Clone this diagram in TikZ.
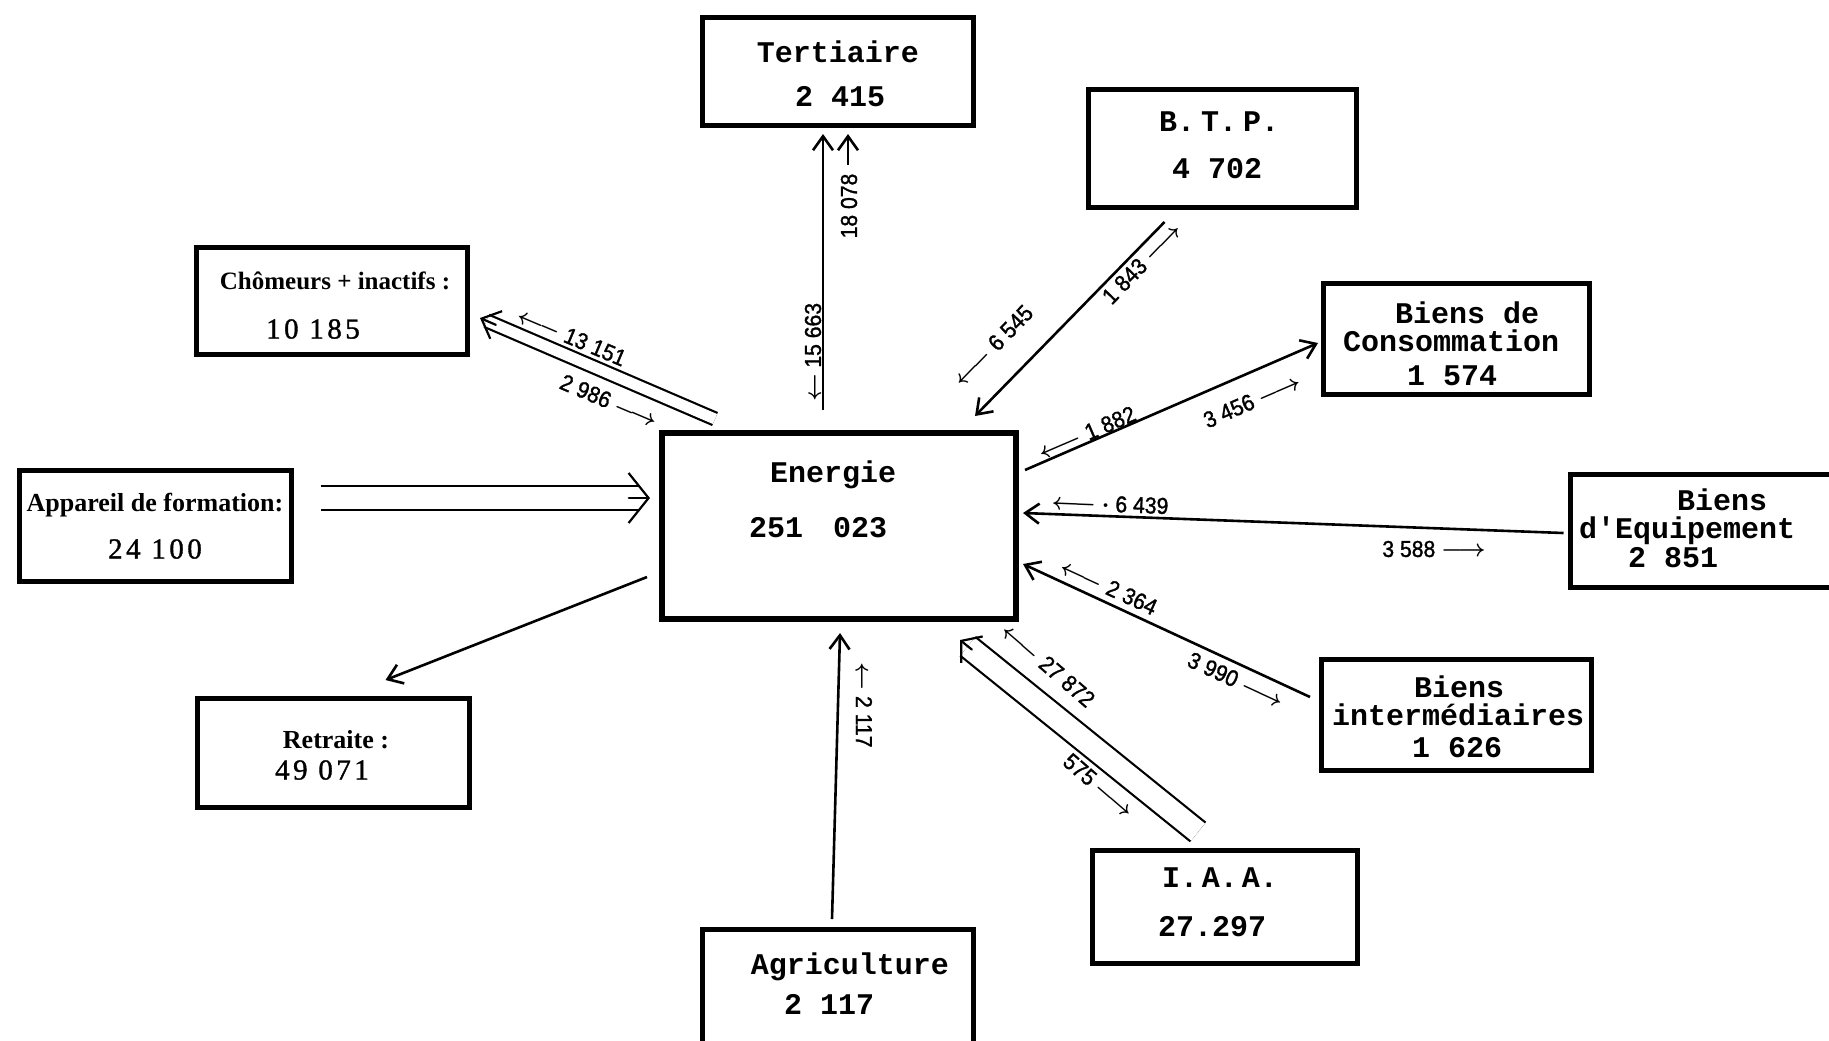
\documentclass[tikz,border=0pt]{standalone}
\usepackage{fontspec}
\setmainfont{Liberation Serif}
\newfontfamily\typefont{Liberation Mono}
\newfontfamily\serifnum[LetterSpace=12,FakeBold=1.2]{Liberation Serif}
\newfontfamily\flowfont[FakeStretch=0.92,FakeBold=1.3]{Liberation Sans}
\usetikzlibrary{arrows.meta,calc}

\begin{document}
\begin{tikzpicture}[
  x=0.5pt, y=-0.5pt,
  box/.style={draw, line width=2.5pt, inner sep=0pt},
  mainbox/.style={draw, line width=3pt, inner sep=0pt},
  tw/.style={inner sep=0pt, font=\typefont\bfseries\fontsize{15}{17}\selectfont},
  caption/.style={inner sep=0pt, font=\bfseries\fontsize{12.5}{14}\selectfont},
  bignum/.style={inner sep=0pt, font=\serifnum\fontsize{14.5}{16}\selectfont},
  flow/.style={inner sep=0pt, font=\flowfont\boldmath\fontsize{11.5}{13}\selectfont},
  arr/.style={line width=1.3pt, -{Straight Barb[length=7pt,width=10pt]}},
  % double shafts and their open heads
  shaftthin/.style={double, line width=1.1pt, double distance=5.4pt},
  shaftwide/.style={double, line width=1.1pt, double distance=10.9pt},
  headthin/.style={line width=1.1pt, line cap=round, -{Straight Barb[length=8pt,width=15pt]}},
  headwide/.style={line width=1.1pt, line cap=round, -{Straight Barb[length=10pt,width=25pt]}},
  headblunt/.style={line width=1.1pt, line cap=round, -{Straight Barb[length=7pt,width=17pt]}},
]
\useasboundingbox (0,0) rectangle (1829,1040);
\fill[white] (0,0) rectangle (1829,1040);
\clip (0,0) rectangle (1829,1040);

% ---------- sector boxes ----------
\node[box, minimum width=135.5pt, minimum height=54pt]   (tert)  at (838,71.5)    {};
\node[box, minimum width=134pt,   minimum height=59pt]   (btp)   at (1222.5,148.5) {};
\node[box, minimum width=135.5pt, minimum height=53.5pt] (chom)  at (332,301)     {};
\node[box, minimum width=133pt,   minimum height=55.5pt] (conso) at (1456.5,339)  {};
\node[box, minimum width=136pt,   minimum height=55.5pt] (app)   at (155.5,526)   {};
\node[mainbox, minimum width=177pt, minimum height=93pt] (ener)  at (839,526)     {};
\node[box, minimum width=138pt,   minimum height=56.5pt] (equip) at (1708,531)    {};
\node[box, minimum width=136pt,   minimum height=54.5pt] (retr)  at (333.5,753)   {};
\node[box, minimum width=135pt,   minimum height=55.5pt] (inter) at (1456.5,715)  {};
\node[box, minimum width=132.5pt, minimum height=56.5pt] (iaa)   at (1225,907)    {};
\node[box, minimum width=135.5pt, minimum height=57.5pt] (agri)  at (838,987)     {};

% ---------- box texts ----------
\node[tw] (tertA) at (838,52)  {Tertiaire};
\node[tw] (tertB) at (840,97)  {2 415};
\node[tw] (btpA)  at (1219,122) {B.\hspace{3pt}T.\hspace{3pt}P.};
\node[tw] (btpB)  at (1217,169) {4 702};
\node[caption] (chomA) at (335,281) {Chômeurs + inactifs :};
\node[bignum]  (chomB) at (313,329) {10 185};
\node[tw] (consoA) at (1467,313) {Biens de};
\node[tw] (consoB) at (1451,341) {Consommation};
\node[tw] (consoC) at (1452,376) {1 574};
\node[caption, font=\bfseries\fontsize{13}{15}\selectfont] (appA) at (155,505) {Appareil de formation:};
\node[bignum]  (appB)  at (155,549) {24 100};
\node[tw] (enerA) at (833,475) {Energie};
\node[tw] (enerB) at (818,528) {251\hspace{15pt}023};
\node[tw] (equipA) at (1722,500) {Biens};
\node[tw] (equipB) at (1687,531) {d'Equipement};
\node[tw] (equipC) at (1673,558) {2 851};
\node[caption, font=\bfseries\fontsize{13}{15}\selectfont] (retrA) at (336,740) {Retraite :};
\node[bignum]  (retrB) at (322,770) {49 071};
\node[tw] (interA) at (1459,687) {Biens};
\node[tw] (interB) at (1458,715) {intermédiaires};
\node[tw] (interC) at (1457,748) {1 626};
\node[tw] (iaaA) at (1220,878) {I.\hspace{2pt}A.\hspace{2pt}A.};
\node[tw] (iaaB) at (1212,927) {27.297};
\node[tw] (agriA) at (850,967)  {Agriculture};
\node[tw] (agriB) at (829,1004) {2 117};

% ---------- free ends near the Energie box ----------
\coordinate (tA) at (823,410);
\coordinate (tB) at (848,165);
\coordinate (cE) at (715,419);
\coordinate (bE) at (975,416);
\coordinate (kE) at (1025,470);
\coordinate (aE) at (650,498);
\coordinate (qE) at (1023,513);
\coordinate (iE) at (1023,564);
\coordinate (fE) at (960,640);
\coordinate (gE) at (840,633);
\coordinate (rE) at (647,577);
% ends of the double arrows at their boxes
\coordinate (cT) at ([shift={(10,17)}]chom.east);
\coordinate (aS) at ([shift={(26.5,-28)}]app.east);
\coordinate (fS) at ([shift={(-27,-16)}]iaa.north);

% ---------- flows ----------
\draw[arr, shorten >=3pt] (tA) -- (tA |- tert.south);
\draw[arr, shorten >=3pt] (tB) -- (tB |- tert.south);
\draw[shaftthin] (cE) -- ($(cT)!3.6pt!(cE)$);
\draw[headthin] ($(cT)!8.6pt!(cE)$) -- (cT);
\draw[arr] ([shift={(-58,12)}]btp.south) -- (bE);
\draw[arr] (kE) -- ([shift={(-3,4)}]conso.west);
\draw[shaftwide] (aS) -- ($(aE)!5pt!(aS)$);
\draw[headwide] ($(aE)!10.6pt!(aS)$) -- (aE);
\draw[arr] ([shift={(-4,2)}]equip.west) -- (qE);
\draw[arr] ([shift={(-9,-18)}]inter.west) -- (iE);
\draw[shaftwide] (fS) -- ($(fE)!5pt!(fS)$);
\draw[headblunt] ($(fE)!7.6pt!(fS)$) -- (fE);
\draw[arr] ([shift={(-6,-8)}]agri.north) -- (gE);
\draw[arr] (rE) -- ([shift={(52,-16)}]retr.north);

% ---------- flow values ----------
\node[flow, rotate=90]    (v15663) at (813,352)  {$\leftarrow$~15 663};
\node[flow, rotate=90]    (v18078) at (849,206)  {18 078};
\node[flow, rotate=-23]   (v13151) at (572,337)  {$\longleftarrow$~13 151};
\node[flow, rotate=-23]   (v2986)  at (609,401)  {2 986 $\longrightarrow$};
\node[flow, rotate=46]    (v6545)  at (993,346)  {$\longleftarrow$~6 545};
\node[flow, rotate=46]    (v1843)  at (1142,263) {1 843 $\longrightarrow$};
\node[flow, rotate=23.3]  (v1882)  at (1087,433) {$\longleftarrow$~1 882};
\node[flow, rotate=23.3]  (v3456)  at (1252,401) {3 456 $\longrightarrow$};
\node[flow, rotate=-2.1]  (v6439)  at (1110,504) {$\longleftarrow$ $\cdot$ 6 439};
\node[flow]               (v3588)  at (1434,549) {3 588 $\longrightarrow$};
\node[flow, rotate=-24.7] (v2364)  at (1109,587) {$\longleftarrow$~2 364};
\node[flow, rotate=-24.7] (v3990)  at (1236,680) {3 990 $\longrightarrow$};
\node[flow, rotate=-40.8] (v27872) at (1048,665) {$\longleftarrow$~27 872};
\node[flow, rotate=-40.8] (v575)   at (1099,786) {575 $\longrightarrow$};
\node[flow, rotate=-90]   (v2117)  at (864,705)  {$\leftarrow$~2 117};
\end{tikzpicture}
\end{document}
